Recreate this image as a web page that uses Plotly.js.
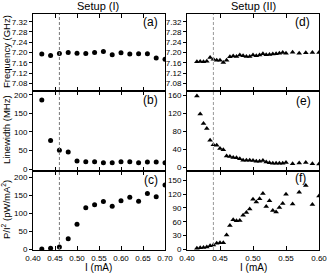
<!DOCTYPE html>
<html>
<head>
<meta charset="utf-8">
<script src="https://cdn.plot.ly/plotly-3.0.1.min.js"></script>
<style>html,body{margin:0;padding:0;background:#fff;}#chart{width:328px;height:274px;}</style>
</head>
<body>
<div id="chart"></div>
<script>
// Setup (I) data
const currentI = [0.42,0.44,0.46,0.48,0.50,0.52,0.54,0.56,0.58,0.60,0.62,0.64,0.66,0.68,0.70];
const freqI = [7.194,7.188,7.196,7.200,7.197,7.196,7.200,7.204,7.191,7.199,7.194,7.195,7.195,7.179,7.174];
const widthI = [186,77,51,46,22,20,20,17,17,20,20,17,19,19,17];
const powerI = [1,3,6.5,29,70,116,124,133,120,135,145,134,155,146,179];

// Setup (II) data
const currentII = [0.415,0.420,0.425,0.430,0.435,0.440,0.445,0.450,0.455,0.460,0.465,0.470,0.475,0.480,0.485,0.490,0.495,0.500,0.505,0.510,0.515,0.520,0.525,0.530,0.535,0.540,0.545,0.550,0.560,0.570,0.580,0.590,0.600];
const freqII = [7.164,7.165,7.164,7.166,7.181,7.174,7.170,7.170,7.161,7.170,7.183,7.186,7.184,7.190,7.187,7.184,7.184,7.190,7.187,7.190,7.195,7.191,7.192,7.194,7.195,7.197,7.200,7.197,7.201,7.197,7.199,7.200,7.200];
const widthII = [158,118,97,86,60,50,49,42,39,25,24,22,21.5,19,15.6,15.6,15.6,15,13.4,13.4,15,12,10.4,9,9,9,9,11,8,9.7,11,8,7.5];
const powerII = [2,3,3.6,4.4,7.3,8.7,13,13.8,13.8,30.6,51.7,64,62,62.6,74,80,88,109,103,110,122,93,106,84.5,81,91,100,120,99,124.5,139,97.6,116.5];

const thresholdI = 0.46;
const thresholdII = 0.44;

const freqTicks = [7.08,7.12,7.16,7.20,7.24,7.28,7.32];
const setupTitles = ["Setup (I)", "Setup (II)"];
const panelLabels = ["(a)","(b)","(c)","(d)","(e)","(f)"];
const yTitles = ["Frequency (GHz)", "Linewidth (MHz)", "P/I<sup>2</sup> (pW/mA<sup>2</sup>)"];
const xTitle = "I (mA)";

const FONT = "Arial, 'Liberation Sans', sans-serif";

const circ = {symbol:'circle', size:5, color:'#000'};
const tri = {symbol:'triangle-up', size:5, color:'#000'};

const traces = [
  {x:currentI, y:freqI, xaxis:'x', yaxis:'y', mode:'markers', marker:circ},
  {x:currentI, y:widthI, xaxis:'x2', yaxis:'y2', mode:'markers', marker:circ},
  {x:currentI, y:powerI, xaxis:'x3', yaxis:'y3', mode:'markers', marker:circ},
  {x:currentII, y:freqII, xaxis:'x4', yaxis:'y4', mode:'markers', marker:tri},
  {x:currentII, y:widthII, xaxis:'x5', yaxis:'y5', mode:'markers', marker:tri},
  {x:currentII, y:powerII, xaxis:'x6', yaxis:'y6', mode:'markers', marker:tri}
];

const W = 328, H = 274;
const L = 33, R = 9, T = 14, B = 24;
const pw = W - L - R, ph = H - T - B;
const leftDom = [0, 132/pw];
const rightDom = [(187-L)/pw, 1];
const dA = [(250-91)/ph, 1];
const dB = [(250-171)/ph, (250-91)/ph];
const dC = [0, (250-171)/ph];

function xax(dom, range, anchor, labels) {
  return {domain:dom, range:range, anchor:anchor, showline:true, linecolor:'#000', linewidth:1,
    mirror:'ticks', ticks:'inside', ticklen:4, tickcolor:'#000', dtick:0.05, tick0:0.4,
    tickformat:'.2f', showticklabels:labels, zeroline:false, showgrid:false,
    tickfont:{family:FONT, size:8, color:'#000'}};
}
function yax(dom, range, anchor, extra) {
  return Object.assign({domain:dom, range:range, anchor:anchor, showline:true, linecolor:'#000', linewidth:1,
    mirror:true, ticks:'outside', ticklen:3, tickcolor:'#000', zeroline:false, showgrid:false,
    tickfont:{family:FONT, size:8, color:'#000'}}, extra);
}

const layout = {
  width:W, height:H, margin:{l:L, r:R, t:T, b:B},
  paper_bgcolor:'#fff', plot_bgcolor:'#fff', showlegend:false,
  font:{family:FONT, color:'#000'},
  xaxis: xax(leftDom, [0.40,0.70], 'y', false),
  xaxis2: xax(leftDom, [0.40,0.70], 'y2', false),
  xaxis3: xax(leftDom, [0.40,0.70], 'y3', true),
  xaxis4: xax(rightDom, [0.40,0.60], 'y4', false),
  xaxis5: xax(rightDom, [0.40,0.60], 'y5', false),
  xaxis6: xax(rightDom, [0.40,0.60], 'y6', true),
  yaxis: yax(dA, [7.05,7.35], 'x', {tickvals:freqTicks, tickformat:'.2f'}),
  yaxis2: yax(dB, [-5,210], 'x2', {dtick:50}),
  yaxis3: yax(dC, [-2,218], 'x3', {dtick:50}),
  yaxis4: yax(dA, [7.05,7.35], 'x4', {tickvals:freqTicks, tickformat:'.2f'}),
  yaxis5: yax(dB, [-8,169], 'x5', {dtick:40}),
  yaxis6: yax(dC, [-2,171], 'x6', {dtick:30}),
  shapes: [
    {type:'line', xref:'x3', yref:'paper', x0:thresholdI, x1:thresholdI, y0:0, y1:1, line:{color:'#777', width:1, dash:'3px,2px'}},
    {type:'line', xref:'x6', yref:'paper', x0:thresholdII, x1:thresholdII, y0:0, y1:1, line:{color:'#999', width:1, dash:'3px,2px'}}
  ],
  annotations: []
};

// setup titles
layout.annotations.push({text:setupTitles[0], xref:'paper', yref:'paper', x:(98-L)/pw, y:1+(T-6)/ph, xanchor:'center', yanchor:'middle', showarrow:false, font:{size:11}});
layout.annotations.push({text:setupTitles[1], xref:'paper', yref:'paper', x:(253-L)/pw, y:1+(T-6)/ph, xanchor:'center', yanchor:'middle', showarrow:false, font:{size:11}});
// panel labels
const labelPos = [[150,22],[150,100],[151,180],[302,22],[303,101],[300,178]];
panelLabels.forEach((t,i)=>{
  layout.annotations.push({text:t, xref:'paper', yref:'paper', x:(labelPos[i][0]-L)/pw, y:(250-labelPos[i][1])/ph, xanchor:'center', yanchor:'middle', showarrow:false, font:{size:12}});
});
// y titles
const yTitleY = [52,130,210];
yTitles.forEach((t,i)=>{
  layout.annotations.push({text:t, xref:'paper', yref:'paper', x:(6-L)/pw, y:(250-yTitleY[i])/ph, xanchor:'center', yanchor:'middle', textangle:-90, showarrow:false, font:{size:9.5}});
});
// x titles
[98,253].forEach(px=>{
  layout.annotations.push({text:xTitle, xref:'paper', yref:'paper', x:(px-L)/pw, y:-(267-250)/ph, xanchor:'center', yanchor:'middle', showarrow:false, font:{size:10}});
});

Plotly.newPlot('chart', traces, layout, {staticPlot:true, displayModeBar:false});
</script>
</body>
</html>
